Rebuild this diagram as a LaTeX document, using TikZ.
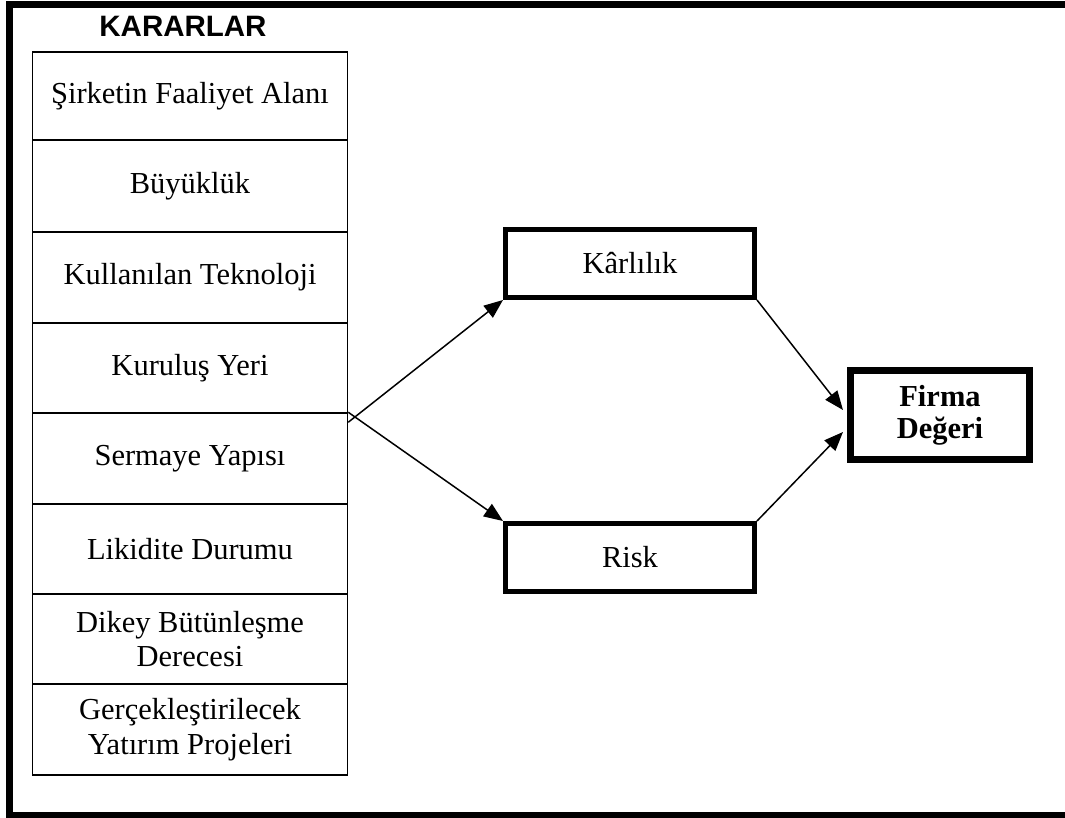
\documentclass[tikz,border=0pt]{standalone}
\usepackage{fontspec}
\setmainfont{Liberation Serif}
\newfontfamily\arialfont{Liberation Sans}
\usetikzlibrary{arrows.meta,calc}
\begin{document}
\begin{tikzpicture}[x=1pt,y=-1pt,
  colbox/.style={draw,line width=1.5pt,minimum width=315pt,inner sep=0pt,align=center,
    font=\fontsize{30.5}{34.5}\selectfont},
  midbox/.style={draw,line width=5pt,minimum width=249pt,minimum height=68pt,inner sep=0pt,
    font=\fontsize{30.5}{34}\selectfont},
  conn/.style={line width=1.5pt,-{Triangle[length=19pt,width=15pt]}}]
\useasboundingbox (0,0) rectangle (1065,818);
\fill[white] (0,0) rectangle (1065,818);
% outer frame (open to the right)
\draw[line width=7pt,miter limit=10] (1075,4.5) -- (9,4.5) -- (9,815) -- (1075,815);
\node[font=\arialfont\bfseries\fontsize{29.5}{32}\selectfont] (title) at (183,26) {KARARLAR};
% column of decisions
\node[colbox,minimum height=88pt] (c1) at (190,96) {Şirketin Faaliyet Alanı};
\node[colbox,minimum height=92pt] (c2) at (190,186) {Büyüklük};
\node[colbox,minimum height=91pt] (c3) at (190,277.5) {Kullanılan Teknoloji};
\node[colbox,minimum height=90pt] (c4) at (190,368) {Kuruluş Yeri};
\node[colbox,minimum height=91pt] (c5) at (190,458.5) {Sermaye Yapısı};
\node[colbox,minimum height=90pt] (c6) at (190,549) {Likidite Durumu};
\node[colbox,minimum height=90pt] (c7) at (190,639) {Dikey Bütünleşme\\Derecesi};
\node[colbox,minimum height=91pt] (c8) at (190,729.5) {Gerçekleştirilecek\\Yatırım Projeleri};
% middle boxes
\node[midbox] (kar) at (630,263.5) {Kârlılık};
\node[midbox] (risk) at (630,557.5) {Risk};
% result
\node[draw,line width=7pt,minimum width=179pt,minimum height=89pt,inner sep=0pt,align=center,
  font=\bfseries\fontsize{30.5}{32}\selectfont] (firma) at (940,415) {Firma\\Değeri};
% connectors
\coordinate (s1) at ($(c5.north east)+(0,10)$);
\coordinate (s2) at (c5.north east);
\coordinate (f1) at ($(firma.west)+(-4,-5)$);
\coordinate (f2) at ($(firma.west)+(-4,17)$);
\draw[conn] (s1) -- (kar.south west);
\draw[conn] (s2) -- (risk.north west);
\draw[conn] (kar.south east) -- (f1);
\draw[conn] (risk.north east) -- (f2);
\end{tikzpicture}
\end{document}
